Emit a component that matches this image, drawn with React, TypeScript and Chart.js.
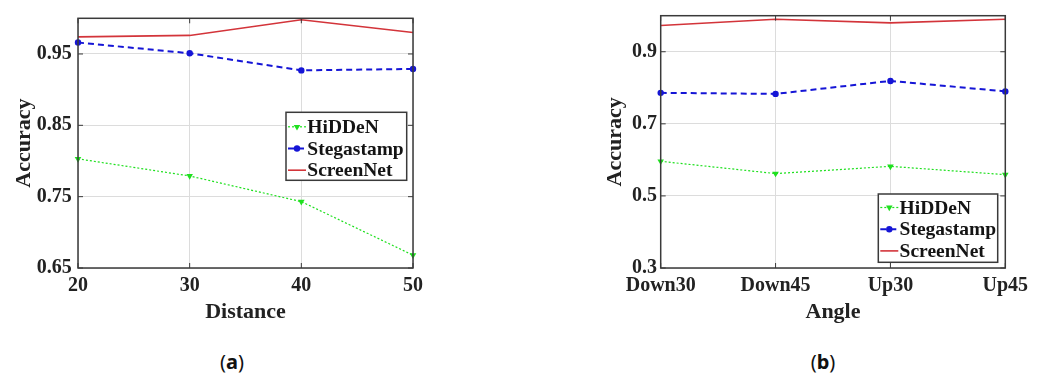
import React, { useEffect, useRef } from 'react';
import { Chart, registerables } from 'chart.js';

Chart.register(...registerables);

// ---------- data ----------
const seriesNames = ['HiDDeN', 'Stegastamp', 'ScreenNet'];

const distanceLabels = ['20', '30', '40', '50'];
const hiddenDistance = [0.803, 0.779, 0.743, 0.668];
const stegaDistance = [0.966, 0.951, 0.927, 0.929];
const screenDistance = [0.974, 0.976, 0.998, 0.98];
const distanceTickValues = [0.65, 0.75, 0.85, 0.95];
const distanceTickLabels = ['0.65', '0.75', '0.85', '0.95'];
const distanceRange = [0.65, 1.0];

const angleLabels = ['Down30', 'Down45', 'Up30', 'Up45'];
const hiddenAngle = [0.596, 0.562, 0.582, 0.559];
const stegaAngle = [0.786, 0.783, 0.819, 0.79];
const screenAngle = [0.973, 0.99, 0.98, 0.99];
const angleTickValues = [0.3, 0.5, 0.7, 0.9];
const angleTickLabels = ['0.3', '0.5', '0.7', '0.9'];
const angleRange = [0.3, 1.0];

// ---------- styles ----------
const GREEN = '#1fe01f';
const BLUE = '#1515d6';
const RED = '#d3343a';
const GRID = '#dcdcdc';
const FRAME = '#3a3a3a';
const TEXT = '#222222';
const SERIF = "'Liberation Serif', 'Times New Roman', serif";
const TICK_FONT = { family: SERIF, weight: 'bold' as const, size: 20, lineHeight: 1.2 };
const TITLE_FONT = { family: SERIF, weight: 'bold' as const, size: 22, lineHeight: 1.2 };

function makeDatasets(h: number[], s: number[], r: number[]) {
  return [
    {
      label: seriesNames[0],
      data: h,
      borderColor: GREEN,
      backgroundColor: GREEN,
      borderWidth: 1.2,
      borderDash: [2, 2],
      pointStyle: 'triangle',
      pointRotation: 180,
      pointRadius: 3.8,
      pointBorderWidth: 0,
      pointBackgroundColor: GREEN,
      pointBorderColor: GREEN,
    },
    {
      label: seriesNames[1],
      data: s,
      borderColor: BLUE,
      backgroundColor: BLUE,
      borderWidth: 2,
      borderDash: [6, 4],
      pointStyle: 'circle',
      pointRadius: 3.2,
      pointBorderWidth: 0,
      pointBackgroundColor: BLUE,
      pointBorderColor: BLUE,
    },
    {
      label: seriesNames[2],
      data: r,
      borderColor: RED,
      backgroundColor: RED,
      borderWidth: 1.6,
      pointRadius: 0,
    },
  ];
}

const framePlugin = {
  id: 'frame',
  afterDraw(chart: any, _args: any, opts: any) {
    const { ctx, chartArea: a } = chart;
    const xs = chart.scales.x;
    const ys = chart.scales.y;
    ctx.save();
    // inward tick marks
    ctx.strokeStyle = FRAME;
    ctx.lineWidth = 1;
    ctx.setLineDash([]);
    const seg = (x1: number, y1: number, x2: number, y2: number) => {
      ctx.beginPath();
      ctx.moveTo(x1, y1);
      ctx.lineTo(x2, y2);
      ctx.stroke();
    };
    xs.ticks.forEach((_t: any, i: number) => {
      const px = xs.getPixelForTick(i);
      seg(px, a.bottom, px, a.bottom - 5);
      seg(px, a.top, px, a.top + 5);
    });
    ys.ticks.forEach((_t: any, i: number) => {
      const py = ys.getPixelForTick(i);
      seg(a.left, py, a.left + 5, py);
      seg(a.right, py, a.right - 5, py);
    });
    ctx.lineWidth = 1.5;
    ctx.strokeRect(a.left, a.top, a.right - a.left, a.bottom - a.top);

    // legend box
    const lg = opts.legend;
    const bx = a.right - lg.right - lg.width;
    const by = lg.top !== undefined ? a.top + lg.top : a.bottom - lg.bottom - lg.height;
    ctx.fillStyle = '#ffffff';
    ctx.fillRect(bx, by, lg.width, lg.height);
    ctx.lineWidth = 1.5;
    ctx.strokeStyle = FRAME;
    ctx.strokeRect(bx, by, lg.width, lg.height);

    chart.data.datasets.forEach((ds: any, i: number) => {
      const ry = by + lg.firstRow + i * lg.rowGap;
      const x1 = bx + 2;
      const x2 = bx + 20;
      ctx.strokeStyle = ds.borderColor;
      ctx.lineWidth = ds.borderWidth;
      ctx.setLineDash(ds.borderDash ? [ds.borderDash[0], ds.borderDash[1]] : []);
      seg(x1, ry, x2, ry);
      ctx.setLineDash([]);
      const cx = (x1 + x2) / 2;
      ctx.fillStyle = ds.pointBackgroundColor || ds.borderColor;
      if (ds.pointRadius > 0 && ds.pointStyle === 'circle') {
        ctx.beginPath();
        ctx.arc(cx, ry, ds.pointRadius, 0, Math.PI * 2);
        ctx.fill();
      } else if (ds.pointRadius > 0 && ds.pointStyle === 'triangle') {
        const r = ds.pointRadius;
        ctx.beginPath();
        ctx.moveTo(cx, ry + r);
        ctx.lineTo(cx - r * 0.866, ry - r / 2);
        ctx.lineTo(cx + r * 0.866, ry - r / 2);
        ctx.closePath();
        ctx.fill();
      }
      ctx.fillStyle = '#141414';
      ctx.font = `bold 19.5px ${SERIF}`;
      ctx.textBaseline = 'middle';
      ctx.textAlign = 'left';
      ctx.fillText(ds.label, bx + 21.3, ry + 1);
    });
    ctx.restore();
  },
};

function buildConfig(p: any) {
  return {
    type: 'line',
    data: { labels: p.labels, datasets: makeDatasets(p.h, p.s, p.r) },
    options: {
      animation: false,
      responsive: false,
      devicePixelRatio: 1,
      layout: { padding: { left: 0, top: p.padTop, right: p.padRight, bottom: 0 } },
      plugins: {
        legend: { display: false },
        tooltip: { enabled: false },
        frame: { legend: p.legend },
      },
      scales: {
        x: {
          type: 'category',
          offset: false,
          grid: { color: GRID, drawTicks: false, lineWidth: 1 },
          border: { display: false },
          ticks: { font: TICK_FONT, color: TEXT, padding: p.xTickPad, maxRotation: 0, autoSkip: false },
          title: { display: true, text: p.xTitle, font: TITLE_FONT, color: TEXT, padding: { top: 0, bottom: p.xTitlePad } },
          afterFit: (s: any) => {
            s.height = p.xHeight;
          },
        },
        y: {
          type: 'linear',
          min: p.range[0],
          max: p.range[1],
          grid: { color: GRID, drawTicks: false, lineWidth: 1 },
          border: { display: false },
          afterBuildTicks: (s: any) => {
            s.ticks = p.tickValues.map((v: number) => ({ value: v }));
          },
          ticks: {
            font: TICK_FONT,
            color: TEXT,
            padding: p.yTickPad,
            callback: (_v: any, i: number) => p.tickLabels[i],
          },
          title: { display: true, text: 'Accuracy', font: TITLE_FONT, color: TEXT, padding: { top: p.yTitlePad, bottom: 0 } },
          afterFit: (s: any) => {
            s.width = p.yWidth;
          },
        },
      },
    },
    plugins: [framePlugin],
  };
}

function ChartPanel({ params, left, width, height }: any) {
  const ref = useRef<HTMLCanvasElement | null>(null);
  useEffect(() => {
    const chart = new Chart(ref.current as HTMLCanvasElement, buildConfig(params) as any);
    return () => chart.destroy();
  }, []);
  return (
    <canvas
      ref={ref}
      width={width}
      height={height}
      style={{ position: 'absolute', left, top: 0, width, height }}
    />
  );
}

const CANVAS_H = 335;

const paramsA = {
  labels: distanceLabels,
  h: hiddenDistance,
  s: stegaDistance,
  r: screenDistance,
  range: distanceRange,
  tickValues: distanceTickValues,
  tickLabels: distanceTickLabels,
  xTitle: 'Distance',
  padTop: 13,
  padRight: 107,
  yWidth: 78,
  xHeight: CANVAS_H - 268,
  xTickPad: 6.3,
  xTitlePad: 9.2,
  yTickPad: 6.3,
  yTitlePad: 10.8,
  legend: { right: 6.3, top: 94, width: 120.7, height: 68, firstRow: 14.5, rowGap: 21.7 },
};

const paramsB = {
  labels: angleLabels,
  h: hiddenAngle,
  s: stegaAngle,
  r: screenAngle,
  range: angleRange,
  tickValues: angleTickValues,
  tickLabels: angleTickLabels,
  xTitle: 'Angle',
  padTop: 13,
  padRight: 36.7,
  yWidth: 140.7,
  xHeight: CANVAS_H - 268,
  xTickPad: 6.3,
  xTitlePad: 9.2,
  yTickPad: 3.7,
  yTitlePad: 81.8,
  legend: { right: 7.6, bottom: 5.7, width: 119.4, height: 68.3, firstRow: 13.5, rowGap: 21.7 },
};

const captionStyle: React.CSSProperties = {
  position: 'absolute',
  top: 350,
  width: 100,
  textAlign: 'center',
  fontFamily: "'Noto Sans', 'DejaVu Sans', sans-serif",
  fontSize: 20,
  lineHeight: '24px',
  color: '#111',
};

export default function App() {
  return (
    <div style={{ position: 'fixed', left: 0, top: 0, width: 1042, height: 379, background: '#fff', overflow: 'hidden' }}>
      <ChartPanel params={paramsA} left={0} width={520} height={CANVAS_H} />
      <ChartPanel params={paramsB} left={520} width={522} height={CANVAS_H} />
      <div style={{ ...captionStyle, left: 232 - 50 }}>
        (<b>a</b>)
      </div>
      <div style={{ ...captionStyle, left: 823 - 50 }}>
        (<b>b</b>)
      </div>
    </div>
  );
}
